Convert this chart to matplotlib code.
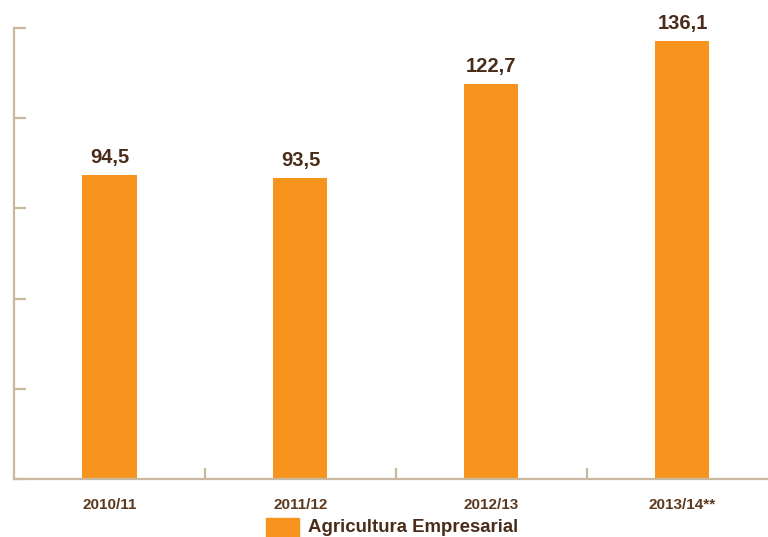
import matplotlib
matplotlib.use("Agg")
import matplotlib.pyplot as plt
from matplotlib.patches import Rectangle
import numpy as np

categories = ["2010/11", "2011/12", "2012/13", "2013/14**"]
values = [94.5, 93.5, 122.7, 136.1]
value_labels = ["94,5", "93,5", "122,7", "136,1"]
series_name = "Agricultura Empresarial"

BAR = "#f7941d"
AXIS = "#c9b99f"
TEXT = "#4a2c1a"
CAT_TEXT = "#5b3a1f"

plt.rcParams["font.family"] = ["Liberation Sans", "DejaVu Sans"]

fig = plt.figure(figsize=(7.68, 5.37), dpi=100)
ax = fig.add_axes([14 / 768, 58 / 537, 1 - 14 / 768, 451 / 537])

x = np.arange(len(categories))
bars = ax.bar(x, values, width=0.283, color=BAR, zorder=2)

for xi, v, lab in zip(x, values, value_labels):
    ax.annotate(lab, (xi, v), xytext=(0, 5.5), textcoords="offset points",
                ha="center", va="bottom", fontsize=14.5, fontweight="bold",
                color=TEXT)

ax.set_xlim(-0.5, 3.448)
ax.set_ylim(0, 140)

for s in ["top", "right"]:
    ax.spines[s].set_visible(False)
for s in ["left", "bottom"]:
    ax.spines[s].set_color(AXIS)
    ax.spines[s].set_linewidth(1.6)

ax.set_yticks(np.arange(0, 141, 28))
ax.set_yticklabels([])
ax.tick_params(axis="y", direction="in", length=8.6, width=1.6, color=AXIS)

ax.set_xticks(x)
ax.set_xticklabels(categories, fontsize=11, fontweight="bold", color=CAT_TEXT)
ax.tick_params(axis="x", which="major", length=0, pad=14)
ax.set_xticks(x[:-1] + 0.5, minor=True)
ax.tick_params(axis="x", which="minor", direction="in", length=7.9,
               width=1.6, color=AXIS)

# legend entry
fig.patches.append(Rectangle((266 / 768, -2 / 537), 33 / 768, 21 / 537,
                             transform=fig.transFigure, color=BAR))
fig.text(308 / 768, 9 / 537, series_name, fontsize=13.4, fontweight="bold",
         color=TEXT, ha="left", va="center")

fig.savefig("out.png", dpi=100)
